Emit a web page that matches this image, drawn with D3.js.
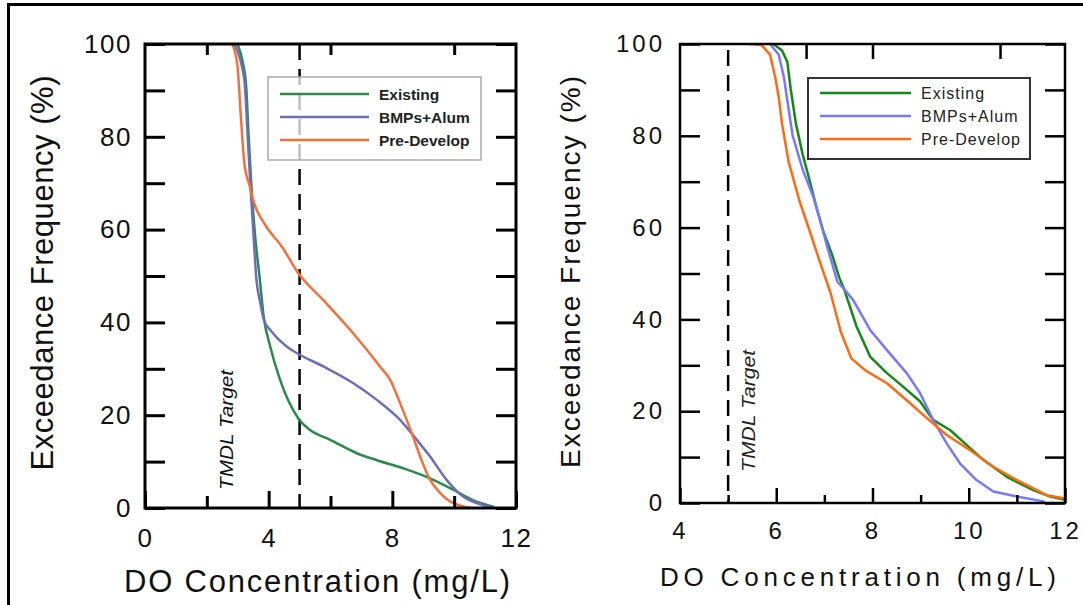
<!DOCTYPE html>
<html>
<head>
<meta charset="utf-8">
<script src="https://cdn.jsdelivr.net/npm/d3@7"></script>
<style>
  body { margin: 0; background: #fff; }
  svg { display: block; font-family: "Liberation Sans", Arial, sans-serif; }
</style>
</head>
<body>
<div id="chart"></div>
<script>
// series: [DO mg/L, exceedance %]
var leftExisting = [[2.99,100],[3.16,96.1],[3.27,91.1],[3.35,80.3],[3.44,69.5],[3.55,59.5],[3.71,49.5],[3.84,41.2],[4.05,34.8],[4.37,27.6],[4.96,19.3],[5.34,16.8],[5.99,14.7],[6.85,11.8],[7.5,10.3],[8.36,8.55],[9.22,6.4],[9.98,3.9],[10.6,1.7],[11.27,0.3]];
var leftBmps = [[2.88,100],[3.1,96.1],[3.23,91.1],[3.32,80.3],[3.41,69.5],[3.5,60],[3.6,49.5],[3.72,44.5],[3.85,40.5],[4.1,38],[4.58,34.8],[4.96,33.2],[5.77,30.5],[6.74,26.9],[7.5,23.3],[8.25,19.0],[8.79,14.7],[9.22,11.1],[9.76,6.0],[10.3,2.4],[10.95,0.6],[11.33,0]];
var leftPre = [[2.82,100],[2.99,95.3],[3.1,84.4],[3.21,74.5],[3.38,69.5],[3.55,65.3],[3.88,61.1],[4.44,56.2],[4.96,50.6],[5.77,44.8],[6.74,37.6],[7.6,30.5],[7.93,27.6],[8.25,22.6],[8.63,16.1],[8.9,11.1],[9.17,6.7],[9.55,3.2],[9.87,1.4],[10.2,0.5],[10.5,0]];

var rightExisting = [[5.94,100],[6.12,98.6],[6.23,96.1],[6.3,90.2],[6.41,82.6],[6.55,75.9],[6.7,70],[6.84,64.2],[6.98,59.1],[7.16,54.1],[7.31,49.1],[7.41,46.6],[7.67,38.4],[7.95,31.9],[8.3,28.3],[8.64,25.3],[8.99,22.1],[9.26,18.1],[9.61,15.9],[9.96,12.6],[10.3,9.4],[10.79,5.7],[11.34,2.8],[11.69,1.4],[12,0.7]];
var rightBmps = [[5.87,100],[6.05,97.7],[6.16,92.7],[6.23,87.7],[6.34,80.1],[6.55,72.6],[6.77,66.7],[6.91,61.7],[7.06,55.8],[7.27,48.2],[7.41,46.6],[7.6,44.2],[7.95,37.7],[8.3,33.3],[8.71,28.3],[8.99,23.9],[9.26,18.1],[9.54,13.0],[9.82,8.6],[10.16,5.0],[10.51,2.5],[11.0,1.4],[11.58,0.3]];
var rightPre = [[5.44,100],[5.69,99.8],[5.87,97.7],[5.98,92.7],[6.05,88.5],[6.12,82.6],[6.26,74.2],[6.48,65.9],[6.7,59.1],[6.91,52.4],[7.13,45.7],[7.34,37.3],[7.56,31.5],[7.85,28.9],[8.3,26.1],[8.71,22.4],[9.13,18.5],[9.54,14.8],[10.03,11.5],[10.51,7.9],[11.0,5.0],[11.62,1.7],[12,1.0]];

var seriesNames = ["Existing", "BMPs+Alum", "Pre-Develop"];
var yTicks = [0,10,20,30,40,50,60,70,80,90,100];
var yLabels = [0,20,40,60,80,100];
var leftXMajor = [0,4,8,12];
var leftXMinor = [2,6,10];
var leftXTop = [2,6,10];
var rightXMajor = [4,6,8,10,12];
var rightXMinor = [5,7,9,11];
var rightXTop = [6.62,8,10.65];
var tmdl = 5;

var svg = d3.select("#chart").append("svg")
  .attr("width", 1083)
  .attr("height", 605);

// outer frame (top + left only visible)
svg.append("line").attr("x1", 8).attr("x2", 1083).attr("y1", 4.5).attr("y2", 4.5)
  .attr("stroke", "#000").attr("stroke-width", 3);
svg.append("line").attr("x1", 8.5).attr("x2", 8.5).attr("y1", 3).attr("y2", 605)
  .attr("stroke", "#000").attr("stroke-width", 3);

function drawPanel(p) {
  var x = d3.scaleLinear().domain(p.xDomain).range([p.left, p.right]);
  var y = d3.scaleLinear().domain([0, 100]).range([p.bottom, p.top]);
  var g = svg.append("g");

  var clipId = "clip" + p.id;
  svg.append("clipPath").attr("id", clipId)
    .append("rect").attr("x", p.left).attr("y", p.top)
    .attr("width", p.right - p.left).attr("height", p.bottom - p.top);

  // TMDL dashed line
  g.append("line")
    .attr("x1", x(tmdl)).attr("x2", x(tmdl))
    .attr("y1", p.dashTop).attr("y2", p.bottom)
    .attr("stroke", "#000").attr("stroke-width", 2.5)
    .attr("stroke-dasharray", "16,9");

  g.append("text")
    .attr("transform", "translate(" + p.tmdlX + "," + p.tmdlY + ") rotate(-90)")
    .attr("text-anchor", "middle")
    .attr("font-style", "italic")
    .attr("font-size", p.tmdlSize)
    .attr("fill", p.tmdlColor)
    .attr("textLength", p.tmdlLen)
    .attr("lengthAdjust", "spacingAndGlyphs")
    .text("TMDL Target");

  var line = d3.line()
    .x(function(d) { return x(d[0]); })
    .y(function(d) { return y(d[1]); })
    .curve(p.curve);

  p.series.forEach(function(s, i) {
    g.append("path")
      .datum(s)
      .attr("clip-path", "url(#" + clipId + ")")
      .attr("fill", "none")
      .attr("stroke", p.colors[i])
      .attr("stroke-width", 2.5)
      .attr("stroke-linejoin", "round")
      .attr("d", line);
  });

  // axes, ticks pointing inward
  var yl = g.append("g").attr("transform", "translate(" + p.left + ",0)")
    .call(d3.axisLeft(y).tickValues(yTicks).tickSize(-20).tickSizeOuter(0)
      .tickPadding(p.yPad)
      .tickFormat(function(d) { return yLabels.indexOf(d) >= 0 ? d : ""; }));
  var yr = g.append("g").attr("transform", "translate(" + p.right + ",0)")
    .call(d3.axisRight(y).tickValues(yTicks).tickSize(-20).tickSizeOuter(0).tickFormat(""));
  var xb = g.append("g").attr("transform", "translate(0," + p.bottom + ")")
    .call(d3.axisBottom(x).tickValues(p.xMajor).tickSize(-p.majorLen).tickSizeOuter(0)
      .tickPadding(p.xPad).tickFormat(d3.format("d")));
  var xm = g.append("g").attr("transform", "translate(0," + p.bottom + ")")
    .call(d3.axisBottom(x).tickValues(p.xMinor).tickSize(-p.minorLen).tickSizeOuter(0).tickFormat(""));
  var xt = g.append("g").attr("transform", "translate(0," + p.top + ")")
    .call(d3.axisTop(x).tickValues(p.xTop).tickSize(-p.topLen).tickSizeOuter(0).tickFormat(""));

  [yl, yr, xb, xm, xt].forEach(function(a) {
    a.select(".domain").remove();
    a.selectAll(".tick line").attr("stroke", "#000").attr("stroke-width", p.frameW);
    a.selectAll(".tick text")
      .attr("font-family", "Liberation Sans, Arial, sans-serif")
      .attr("font-size", p.tickSize)
      .attr("letter-spacing", p.tickSpacing)
      .attr("fill", "#111");
  });

  g.append("rect")
    .attr("x", p.left).attr("y", p.top)
    .attr("width", p.right - p.left).attr("height", p.bottom - p.top)
    .attr("fill", "none").attr("stroke", "#000").attr("stroke-width", p.frameW);

  // axis titles
  g.append("text")
    .attr("x", p.xTitleX).attr("y", p.xTitleY)
    .attr("text-anchor", "middle")
    .attr("font-size", p.xTitleSize)
    .attr("textLength", p.xTitleLen)
    .attr("lengthAdjust", "spacing")
    .attr("fill", "#111")
    .text("DO Concentration (mg/L)");
  g.append("text")
    .attr("transform", "translate(" + p.yTitleX + "," + p.yTitleY + ") rotate(-90)")
    .attr("text-anchor", "middle")
    .attr("font-size", p.yTitleSize)
    .attr("textLength", p.yTitleLen)
    .attr("lengthAdjust", "spacing")
    .attr("fill", "#111")
    .text("Exceedance Frequency (%)");

  // legend
  var lg = g.append("g");
  lg.append("rect")
    .attr("x", p.legend.x).attr("y", p.legend.y)
    .attr("width", p.legend.w).attr("height", p.legend.h)
    .attr("fill", "#fff").attr("fill-opacity", p.legend.fillOpacity)
    .attr("stroke", p.legend.stroke).attr("stroke-width", p.legend.strokeW);
  seriesNames.forEach(function(name, i) {
    var ly = p.legend.rows[i];
    lg.append("line")
      .attr("x1", p.legend.lx1).attr("x2", p.legend.lx2)
      .attr("y1", ly).attr("y2", ly)
      .attr("stroke", p.colors[i]).attr("stroke-width", 2.5);
    lg.append("text")
      .attr("x", p.legend.tx).attr("y", ly)
      .attr("dy", "0.36em")
      .attr("font-size", p.legend.fontSize)
      .attr("font-weight", p.legend.weight)
      .attr("letter-spacing", p.legend.spacing)
      .attr("fill", "#222")
      .text(name);
  });
}

drawPanel({
  id: "L",
  xDomain: [0, 12],
  left: 145, right: 516, top: 44, bottom: 508,
  series: [leftExisting, leftBmps, leftPre],
  colors: ["#2a8a4c", "#6e6eb8", "#f4703a"],
  curve: d3.curveMonotoneX,
  xMajor: leftXMajor, xMinor: leftXMinor, xTop: leftXTop,
  majorLen: 17, minorLen: 12, topLen: 11,
  frameW: 3,
  yPad: 13, xPad: 21,
  tickSize: 26, tickSpacing: 1.5,
  dashTop: 44,
  tmdlX: 233, tmdlY: 430, tmdlSize: 19, tmdlLen: 120, tmdlColor: "#111",
  xTitleX: 317, xTitleY: 592, xTitleSize: 31, xTitleLen: 386,
  yTitleX: 53, yTitleY: 273, yTitleSize: 31, yTitleLen: 395,
  legend: { x: 268, y: 77, w: 213, h: 83, fillOpacity: 0.75, stroke: "#aaa", strokeW: 1.5,
    rows: [94, 117, 140], lx1: 280, lx2: 369, tx: 379,
    fontSize: 15.5, weight: "bold", spacing: 0 }
});

drawPanel({
  id: "R",
  xDomain: [4, 12],
  left: 680, right: 1065, top: 44, bottom: 503,
  series: [rightExisting, rightBmps, rightPre],
  colors: ["#138a13", "#7878ff", "#ff6a12"],
  curve: d3.curveLinear,
  xMajor: rightXMajor, xMinor: rightXMinor, xTop: rightXTop,
  majorLen: 15, minorLen: 8, topLen: 15,
  frameW: 2.5,
  yPad: 15, xPad: 19,
  tickSize: 24, tickSpacing: 3,
  dashTop: 50,
  tmdlX: 755, tmdlY: 411, tmdlSize: 18, tmdlLen: 122, tmdlColor: "#222",
  xTitleX: 858, xTitleY: 586, xTitleSize: 26, xTitleLen: 396,
  yTitleX: 580, yTitleY: 272, yTitleSize: 28, yTitleLen: 392,
  legend: { x: 808, y: 78, w: 222, h: 81, fillOpacity: 1, stroke: "#333", strokeW: 2,
    rows: [93, 116, 139], lx1: 820, lx2: 911, tx: 921,
    fontSize: 16, weight: "normal", spacing: 1 }
});
</script>
</body>
</html>
